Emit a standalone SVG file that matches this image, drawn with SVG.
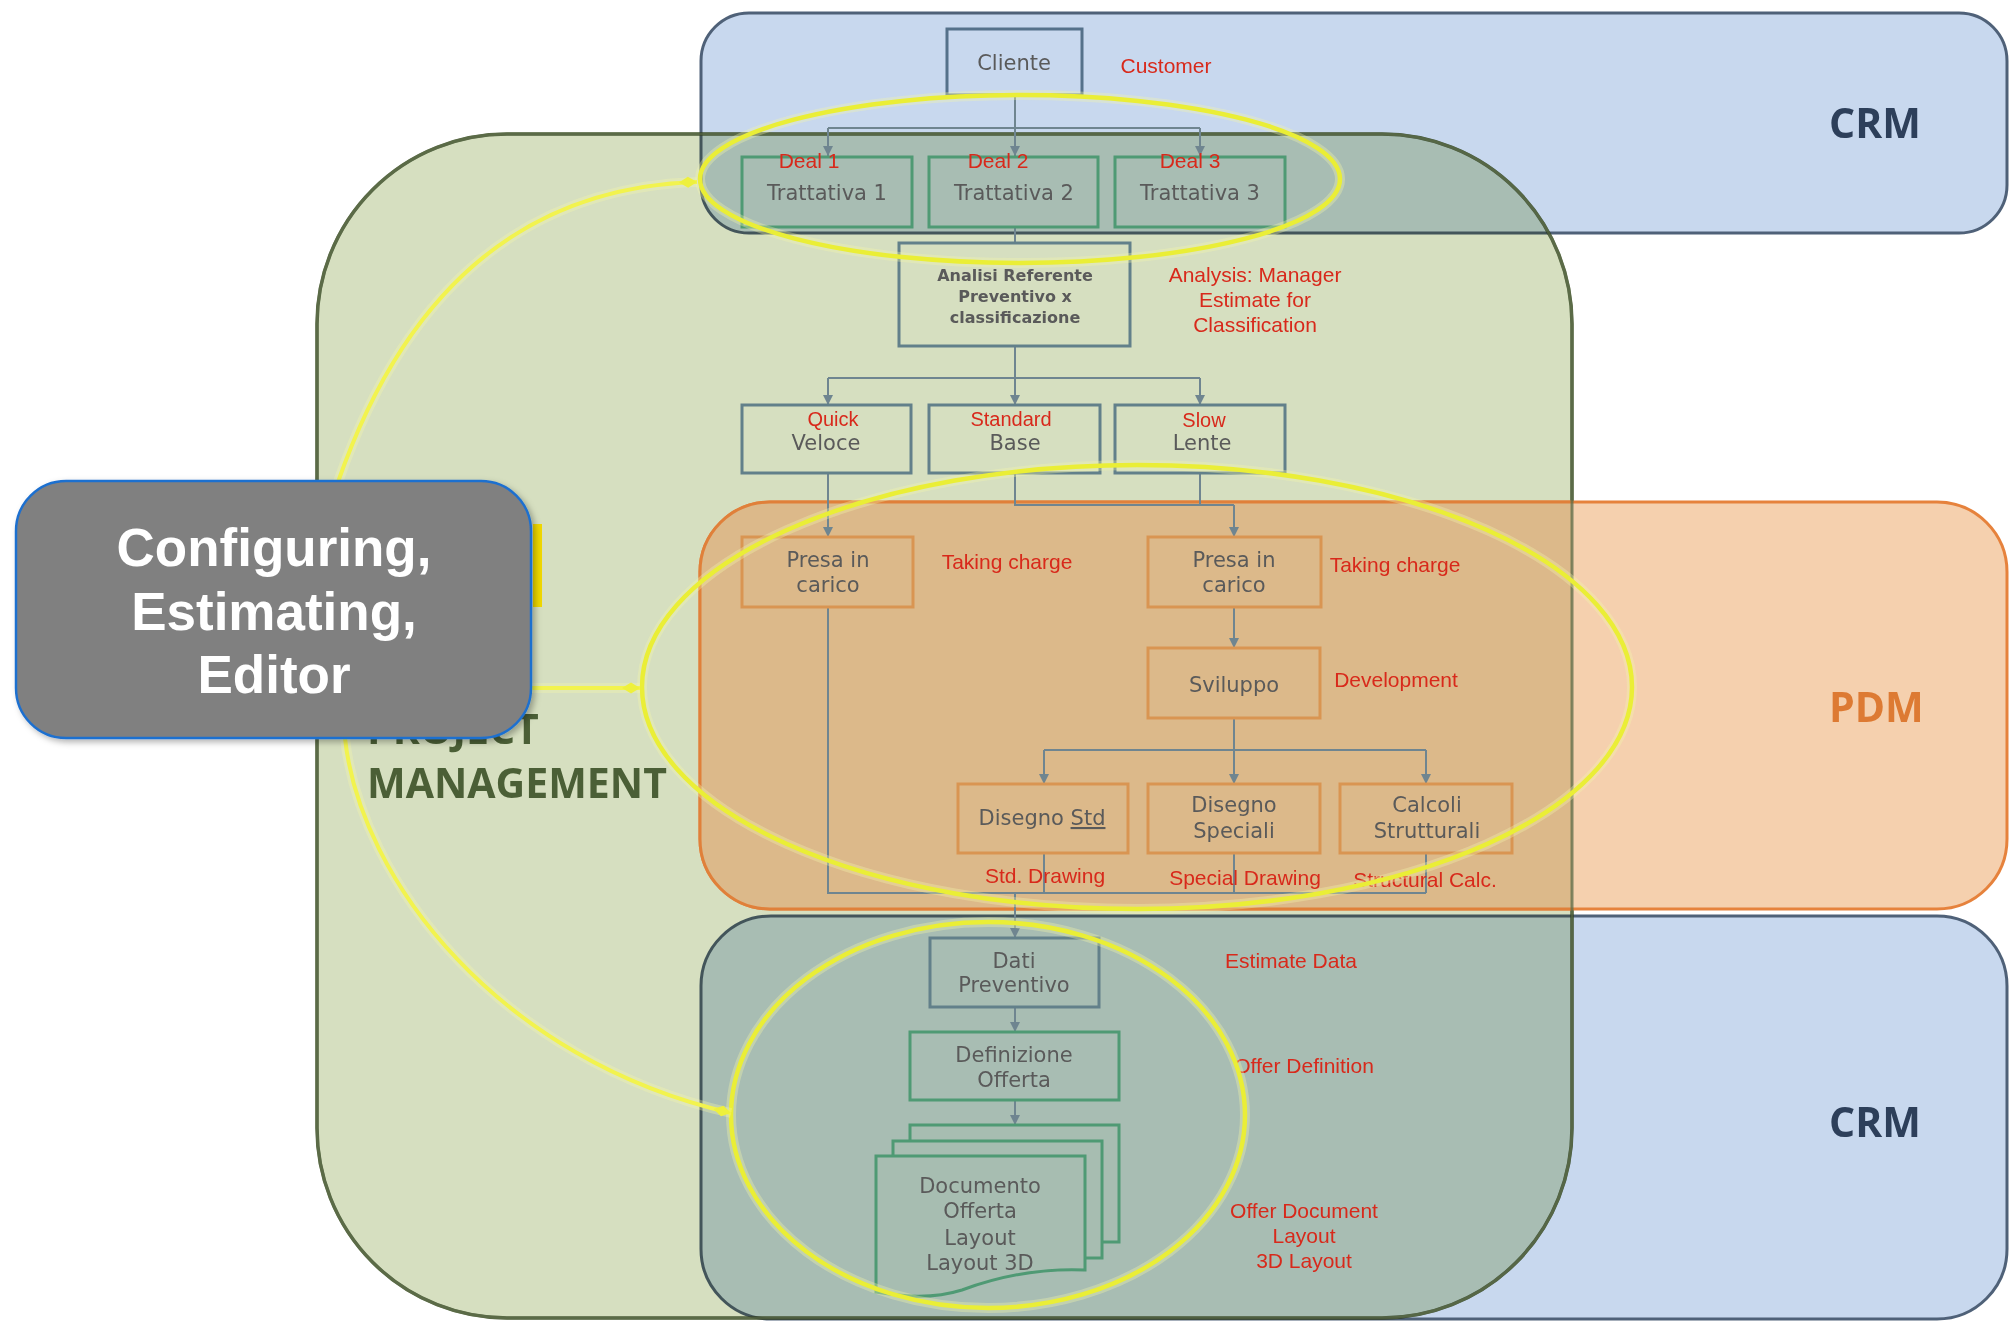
<svg xmlns="http://www.w3.org/2000/svg" width="2009" height="1322" viewBox="0 0 2009 1322">
<defs>
<style>
.sys{mix-blend-mode:multiply}
.crm{fill:#c8d8ee;stroke:#4f6178;stroke-width:3}
.pdm{fill:#f5d0ae;stroke:#e6823c;stroke-width:3}
.pm{fill:#d6dfc0;stroke:#5b6b47;stroke-width:3.5}
.big{font-family:"Open Sans","Noto Sans",sans-serif;font-weight:700;font-size:41px}
.n{fill:none;stroke-width:3}
.nb{stroke:#55718a}
.ng{stroke:#4f9a74}
.ns{stroke:#62808a}
.no{stroke:#d99552}
.t{font-family:"DejaVu Sans",sans-serif;font-size:21px;fill:#5a5a5a;text-anchor:middle}
.ts{font-size:16px;font-weight:700}
.r{font-family:"Liberation Sans",Arial,sans-serif;font-size:21px;fill:#d8291b;text-anchor:middle}
.r2{font-size:20px}
.c{fill:none;stroke:#6f8590;stroke-width:2}
.y{fill:none;stroke:#eaee36;stroke-width:4.5}
.yg{fill:none;stroke:#f4f6a8;stroke-width:10;opacity:.35}
.ya{fill:none;stroke:#f2f34e;stroke-width:4}
</style>
<clipPath id="pmclip"><rect x="317" y="134" width="1255" height="1184" rx="190"/></clipPath>
<marker id="ah" viewBox="0 0 10 10" refX="10" refY="5" markerWidth="10" markerHeight="10" markerUnits="userSpaceOnUse" orient="auto"><path d="M0,0 L10,5 L0,10 z" fill="#6f8590"/></marker>
<marker id="ya" viewBox="0 0 18 12" refX="18" refY="6" markerWidth="18" markerHeight="12" markerUnits="userSpaceOnUse" orient="auto"><path d="M0,6 L9,0.5 L18,6 L9,11.5 z" fill="#eef03c"/></marker>
<filter id="sh" x="-10%" y="-10%" width="130%" height="130%"><feDropShadow dx="3" dy="3" stdDeviation="3" flood-color="#000" flood-opacity="0.3"/></filter>
</defs>
<rect x="0" y="0" width="2009" height="1322" fill="#ffffff"/>

<g id="areas">
<rect id="pm" class="pm" x="317" y="134" width="1255" height="1184" rx="190"/>
<rect id="crm-top" class="crm sys" x="701" y="13" width="1306" height="220" rx="48"/>
<rect id="pdm" class="pdm" x="700" y="502" width="1307" height="407" rx="70"/>
<rect x="700" y="502" width="1307" height="407" rx="70" clip-path="url(#pmclip)" fill="#dcb98a" stroke="#e0803a" stroke-width="3"/>
<rect id="crm-bottom" class="crm sys" x="701" y="916" width="1306" height="403" rx="70"/>
<rect x="317" y="134" width="1255" height="1184" rx="190" fill="none" stroke="#5b6b47" stroke-width="3" opacity="0.75"/>
<text class="big" x="1829" y="138" fill="#2d3f5a">CRM</text>
<text class="big" x="1829" y="722" fill="#dd7a33">PDM</text>
<text class="big" x="1829" y="1137" fill="#2d3f5a">CRM</text>
<text class="big" x="367" y="744" fill="#4b5f36">PROJECT</text>
<text class="big" x="367" y="798" fill="#4b5f36">MANAGEMENT</text>
</g>

<g id="connectors">
<path class="c" d="M1015,95 V128 M828,128 H1200"/>
<path class="c" d="M828,128 V156" marker-end="url(#ah)"/>
<path class="c" d="M1015,128 V156" marker-end="url(#ah)"/>
<path class="c" d="M1200,128 V156" marker-end="url(#ah)"/>
<path class="c" d="M1015,227 V243"/>
<path class="c" d="M1015,346 V378 M828,378 H1200"/>
<path class="c" d="M828,378 V405" marker-end="url(#ah)"/>
<path class="c" d="M1015,378 V405" marker-end="url(#ah)"/>
<path class="c" d="M1200,378 V405" marker-end="url(#ah)"/>
<path class="c" d="M828,473 V537" marker-end="url(#ah)"/>
<path class="c" d="M1015,473 V505 H1234 M1200,473 V505"/>
<path class="c" d="M1234,505 V537" marker-end="url(#ah)"/>
<path class="c" d="M1234,607 V648" marker-end="url(#ah)"/>
<path class="c" d="M1234,718 V750 M1044,750 H1426"/>
<path class="c" d="M1044,750 V784" marker-end="url(#ah)"/>
<path class="c" d="M1234,750 V784" marker-end="url(#ah)"/>
<path class="c" d="M1426,750 V784" marker-end="url(#ah)"/>
<path class="c" d="M828,607 V893 H1426 M1044,853 V893 M1234,853 V893 M1426,853 V893"/>
<path class="c" d="M1015,893 V938" marker-end="url(#ah)"/>
<path class="c" d="M1015,1007 V1032" marker-end="url(#ah)"/>
<path class="c" d="M1015,1100 V1125" marker-end="url(#ah)"/>
</g>

<g id="cliente"><rect class="n nb" x="947" y="29" width="135" height="66"/><text class="t" x="1014" y="70">Cliente</text><text class="r" x="1166" y="73">Customer</text></g>
<g id="deal1"><rect class="n ng" x="742" y="157" width="170" height="70"/><text class="t" x="827" y="200">Trattativa 1</text><text class="r" x="809" y="168">Deal 1</text></g>
<g id="deal2"><rect class="n ng" x="929" y="157" width="169" height="70"/><text class="t" x="1014" y="200">Trattativa 2</text><text class="r" x="998" y="168">Deal 2</text></g>
<g id="deal3"><rect class="n ng" x="1115" y="157" width="170" height="70"/><text class="t" x="1200" y="200">Trattativa 3</text><text class="r" x="1190" y="168">Deal 3</text></g>
<g id="analisi"><rect class="n ns" x="899" y="243" width="231" height="103"/><text class="t ts" x="1015" y="281">Analisi Referente</text><text class="t ts" x="1015" y="302">Preventivo x</text><text class="t ts" x="1015" y="323">classificazione</text><text class="r" x="1255" y="282">Analysis: Manager</text><text class="r" x="1255" y="307">Estimate for</text><text class="r" x="1255" y="332">Classification</text></g>
<g id="veloce"><rect class="n ns" x="742" y="405" width="169" height="68"/><text class="r r2" x="833" y="426">Quick</text><text class="t" x="826" y="450">Veloce</text></g>
<g id="base"><rect class="n ns" x="929" y="405" width="171" height="68"/><text class="r r2" x="1011" y="426">Standard</text><text class="t" x="1015" y="450">Base</text></g>
<g id="lente"><rect class="n ns" x="1115" y="405" width="170" height="68"/><text class="r r2" x="1204" y="427">Slow</text><text class="t" x="1202" y="450">Lente</text></g>
<g id="presa1"><rect class="n no" x="742" y="537" width="171" height="70"/><text class="t" x="828" y="567">Presa in</text><text class="t" x="828" y="592">carico</text><text class="r" x="1007" y="569">Taking charge</text></g>
<g id="presa2"><rect class="n no" x="1148" y="537" width="173" height="70"/><text class="t" x="1234" y="567">Presa in</text><text class="t" x="1234" y="592">carico</text><text class="r" x="1395" y="572">Taking charge</text></g>
<g id="sviluppo"><rect class="n no" x="1148" y="648" width="172" height="70"/><text class="t" x="1234" y="692">Sviluppo</text><text class="r" x="1396" y="687">Development</text></g>
<g id="disegno-std"><rect class="n no" x="958" y="784" width="170" height="69"/><text class="t" x="1042" y="825">Disegno <tspan text-decoration="underline">Std</tspan></text><text class="r" x="1045" y="883">Std. Drawing</text></g>
<g id="disegno-speciali"><rect class="n no" x="1148" y="784" width="172" height="69"/><text class="t" x="1234" y="812">Disegno</text><text class="t" x="1234" y="838">Speciali</text><text class="r" x="1245" y="885">Special Drawing</text></g>
<g id="calcoli"><rect class="n no" x="1340" y="784" width="172" height="69"/><text class="t" x="1427" y="812">Calcoli</text><text class="t" x="1427" y="838">Strutturali</text><text class="r" x="1425" y="887">Structural Calc.</text></g>
<g id="dati"><rect class="n ns" x="930" y="938" width="169" height="69"/><text class="t" x="1014" y="968">Dati</text><text class="t" x="1014" y="992">Preventivo</text><text class="r" x="1291" y="968">Estimate Data</text></g>
<g id="definizione"><rect class="n ng" x="910" y="1032" width="209" height="68"/><text class="t" x="1014" y="1062">Definizione</text><text class="t" x="1014" y="1087">Offerta</text><text class="r" x="1304" y="1073">Offer Definition</text></g>
<g id="documento">
<rect class="n ng" x="910" y="1125" width="209" height="117" style="fill:#a7bdb1"/>
<rect class="n ng" x="893" y="1141" width="209" height="117" style="fill:#a7bdb1"/>
<path class="n ng" d="M876,1156 H1085 V1270 C1040,1268 1000,1276 962,1290 C930,1300 900,1296 876,1292 Z" style="fill:#a7bdb1"/>
<text class="t" x="980" y="1193">Documento</text><text class="t" x="980" y="1218">Offerta</text><text class="t" x="980" y="1245">Layout</text><text class="t" x="980" y="1270">Layout 3D</text>
<text class="r" x="1304" y="1218">Offer Document</text><text class="r" x="1304" y="1243">Layout</text><text class="r" x="1304" y="1268">3D Layout</text>
</g>

<g id="highlights">
<ellipse class="yg" cx="1020" cy="179" rx="320" ry="84"/>
<ellipse class="y" cx="1020" cy="179" rx="320" ry="84"/>
<ellipse class="yg" cx="1137" cy="687" rx="495" ry="222"/>
<ellipse class="y" cx="1137" cy="687" rx="495" ry="222"/>
<ellipse class="yg" cx="988" cy="1115" rx="257" ry="193"/>
<ellipse class="y" cx="988" cy="1115" rx="257" ry="193"/>
<path class="yg" d="M338,482 Q440,190 697,182"/>
<path class="ya" d="M338,482 Q440,190 697,182" marker-end="url(#ya)"/>
<path class="yg" d="M532,688 H640"/>
<path class="ya" d="M532,688 H640" marker-end="url(#ya)"/>
<path class="yg" d="M345,738 C360,880 500,1060 731,1113"/>
<path class="ya" d="M345,738 C360,880 500,1060 731,1113" marker-end="url(#ya)"/>
<rect x="533" y="524" width="9" height="83" fill="#f0d800"/>
</g>

<g id="callout">
<rect x="16" y="481" width="515" height="257" rx="50" fill="#808080" stroke="#1f6fcf" stroke-width="2.5" filter="url(#sh)"/>
<text x="274" y="566" font-family="Liberation Sans, Arial, sans-serif" font-weight="700" font-size="53" fill="#ffffff" text-anchor="middle">Configuring,</text>
<text x="274" y="630" font-family="Liberation Sans, Arial, sans-serif" font-weight="700" font-size="53" fill="#ffffff" text-anchor="middle">Estimating,</text>
<text x="274" y="693" font-family="Liberation Sans, Arial, sans-serif" font-weight="700" font-size="53" fill="#ffffff" text-anchor="middle">Editor</text>
</g>
</svg>
